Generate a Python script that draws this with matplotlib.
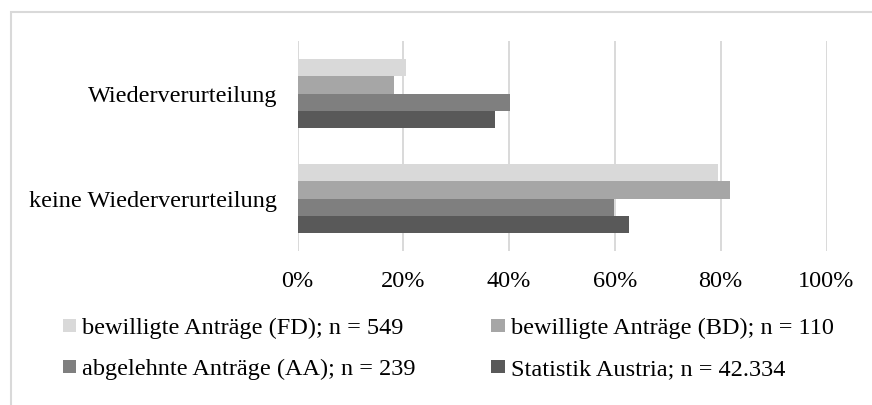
import matplotlib.pyplot as plt
from matplotlib.patches import Rectangle

categories = ["keine Wiederverurteilung", "Wiederverurteilung"]
series_names = [
    "bewilligte Anträge (FD); n = 549",
    "bewilligte Anträge (BD); n = 110",
    "abgelehnte Anträge (AA); n = 239",
    "Statistik Austria; n = 42.334",
]
fd = [0.794, 0.206]
bd = [0.818, 0.182]
aa = [0.598, 0.402]
sa = [0.626, 0.374]
colors = ["#d9d9d9", "#a6a6a6", "#7f7f7f", "#595959"]

plt.rcParams["font.family"] = ["Liberation Serif", "DejaVu Serif"]
fs = 17.5

fig = plt.figure(figsize=(8.72, 4.05), dpi=100)
ax = fig.add_axes([297.5 / 872, 1 - 251 / 405, 529 / 872, 210 / 405])

h = 0.65 / 4
offsets = [1.5 * h, 0.5 * h, -0.5 * h, -1.5 * h]
bars = []
for vals, off, c in zip([fd, bd, aa, sa], offsets, colors):
    b = ax.barh([i + off for i in range(len(categories))], vals, height=h, color=c, zorder=3)
    bars.append(b)

ax.set_xlim(0, 1)
ax.set_ylim(-0.5, 1.5)
ax.set_xticks([0, 0.2, 0.4, 0.6, 0.8, 1.0])
ax.set_xticklabels(["0%", "20%", "40%", "60%", "80%", "100%"])
ax.set_yticks(range(len(categories)))
ax.set_yticklabels(categories)
ax.tick_params(axis="x", length=0, pad=14.5, labelsize=fs)
ax.tick_params(axis="y", length=0, pad=14.5, labelsize=fs)
ax.grid(axis="x", color="#d9d9d9", linewidth=1.4, zorder=0)
for s in ax.spines.values():
    s.set_visible(False)

# legend row-major like Excel
order = [0, 2, 1, 3]
fig.legend([bars[i] for i in order], [series_names[i] for i in order],
           ncol=2, loc="upper left", bbox_to_anchor=(63 / 872, 1 - 318 / 405),
           frameon=False, fontsize=fs, handlelength=0.55, handleheight=0.45,
           handletextpad=0.25, columnspacing=3.1, labelspacing=0.82,
           borderpad=0, borderaxespad=0)

fig.patches.append(Rectangle((10.5 / 872, -0.1), 1.2, 1.1 - 12 / 405,
                             transform=fig.transFigure, fill=False,
                             edgecolor="#d9d9d9", linewidth=1.5))

fig.savefig("out.png", dpi=100)
